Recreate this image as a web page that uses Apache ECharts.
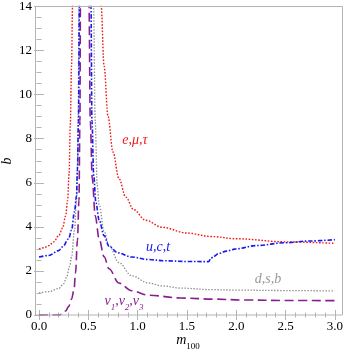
<!DOCTYPE html>
<html><head><meta charset="utf-8">
<script src="https://cdn.jsdelivr.net/npm/echarts@6/dist/echarts.min.js"></script>
<style>html,body{margin:0;padding:0;background:#fff}#c{width:346px;height:350px}</style>
</head><body><div id="c"></div><script>
// tick values
const xTicks = [0, 0.5, 1.0, 1.5, 2.0, 2.5, 3.0];
const yTicks = [0, 2, 4, 6, 8, 10, 12, 14];

// e,mu,tau (red)
const redLX = [0, 0.05, 0.1, 0.15, 0.2, 0.24, 0.27, 0.29, 0.305, 0.317, 0.33, 0.34, 0.35];
const redLY = [3.0, 3.05, 3.15, 3.32, 3.6, 3.95, 4.5, 5.2, 6.4, 8.6, 11.3, 14, 18];
const redRX = [0.60, 0.63, 0.66, 0.70, 0.75, 0.81, 0.88, 0.96, 1.08, 1.25, 1.5, 1.75, 2.0, 2.5, 3.0];
const redRY = [19, 14, 11.3, 9.0, 7.4, 6.2, 5.35, 4.78, 4.3, 3.98, 3.72, 3.56, 3.46, 3.32, 3.25];

// u,c,t (blue)
const blueLX = [0, 0.1, 0.2, 0.24, 0.3, 0.33, 0.36, 0.38, 0.39, 0.40, 0.41, 0.415];
const blueLY = [2.63, 2.7, 2.92, 3.1, 3.45, 3.85, 4.7, 5.4, 6.6, 8.8, 14, 18];
const blueRX = [0.52, 0.527, 0.537, 0.555, 0.577, 0.61, 0.66, 0.71, 0.8, 0.94, 1.1, 1.28, 1.5, 1.72, 1.74, 1.77, 1.82, 1.9, 2.0, 2.2, 2.5, 2.75, 3.0];
const blueRY = [18, 14, 8.8, 6.3, 5.1, 4.3, 3.6, 3.12, 2.82, 2.63, 2.52, 2.46, 2.43, 2.42, 2.55, 2.66, 2.78, 2.9, 3.0, 3.15, 3.28, 3.36, 3.42];

// d,s,b (gray)
const grayLX = [0, 0.1, 0.2, 0.25, 0.28, 0.31, 0.33, 0.36, 0.38, 0.39, 0.397, 0.405, 0.41];
const grayLY = [1.0, 1.06, 1.2, 1.42, 1.72, 2.2, 2.63, 3.85, 5.2, 6.7, 8.8, 14, 18];
const grayRX = [0.545, 0.553, 0.57, 0.59, 0.61, 0.66, 0.71, 0.81, 0.94, 1.11, 1.25, 1.44, 1.75, 2.0, 2.5, 3.0];
const grayRY = [18, 14, 8.8, 5.9, 5.0, 3.8, 3.15, 2.38, 1.78, 1.45, 1.32, 1.22, 1.15, 1.13, 1.11, 1.09];

// nu1,nu2,nu3 (purple)
const purpleLX = [0, 0.1, 0.2, 0.23, 0.27, 0.30, 0.33, 0.355, 0.37, 0.39, 0.405, 0.415, 0.42, 0.425];
const purpleLY = [0, 0, 0, 0.03, 0.18, 0.38, 0.72, 1.15, 1.9, 3.4, 5.2, 8.8, 14, 18];
const purpleRX = [0.5, 0.507, 0.52, 0.54, 0.57, 0.61, 0.66, 0.71, 0.81, 0.94, 1.11, 1.44, 1.78, 2.08, 2.5, 3.0];
const purpleRY = [18, 14, 8.8, 6.2, 4.5, 3.45, 2.65, 2.1, 1.45, 1.1, 0.9, 0.77, 0.72, 0.68, 0.66, 0.65];

const zip = (xs, ys) => xs.map((x, i) => [x, ys[i]]);
const FONT = '"Liberation Serif", "DejaVu Serif", serif';
const FRAME = '#b4b4b4';

function mkSeries(xs, ys, color, dash, width) {
  return {
    type: 'line', data: zip(xs, ys), showSymbol: false, symbol: 'none',
    smooth: 0.35, smoothMonotone: 'x', clip: true, silent: true,
    lineStyle: { color: color, width: width, type: dash, cap: 'butt' }
  };
}
const RED = '#f01818', BLUE = '#1818f0', GRAY = '#8a8a8a', PURPLE = '#86208e';

function subRich(color, italicSub) {
  return {
    a: { fontFamily: FONT, fontStyle: 'italic', fontSize: 14, lineHeight: 20, verticalAlign: 'bottom', padding: [0, 0, 4, 0], fill: color },
    s: { fontFamily: FONT, fontStyle: italicSub ? 'italic' : 'normal', fontSize: 9, lineHeight: 20, verticalAlign: 'bottom', padding: [0, 0, 0, 0], fill: color }
  };
}

const chart = echarts.init(document.getElementById('c'), null, { renderer: 'canvas' });
const tickCommon = { show: true, inside: true, length: 5, lineStyle: { color: FRAME, width: 1 } };
const minorCommon = { show: true, length: 2.5, lineStyle: { color: FRAME, width: 1 } };
chart.setOption({
  animation: false,
  backgroundColor: '#fff',
  grid: { left: 39, right: 7, top: 6, bottom: 35, containLabel: false },
  xAxis: [
    { type: 'value', position: 'bottom', min: 0, max: 3, interval: 0.5,
      axisLine: { show: false }, splitLine: { show: false },
      axisTick: tickCommon, minorTick: Object.assign({ splitNumber: 5 }, minorCommon),
      axisLabel: { margin: 5, color: '#000', fontFamily: FONT, fontSize: 13,
        formatter: v => v.toFixed(1) } },
    { type: 'value', position: 'top', min: 0, max: 3, interval: 0.5,
      axisLine: { show: false }, splitLine: { show: false },
      axisTick: tickCommon, minorTick: Object.assign({ splitNumber: 5 }, minorCommon),
      axisLabel: { show: false } }
  ],
  yAxis: [
    { type: 'value', position: 'left', offset: 4, min: 0, max: 14, interval: 2,
      axisLine: { show: false }, splitLine: { show: false },
      axisTick: tickCommon, minorTick: Object.assign({ splitNumber: 4 }, minorCommon),
      axisLabel: { margin: 3, color: '#000', fontFamily: FONT, fontSize: 13 } },
    { type: 'value', position: 'right', offset: 4, min: 0, max: 14, interval: 2,
      axisLine: { show: false }, splitLine: { show: false },
      axisTick: tickCommon, minorTick: Object.assign({ splitNumber: 4 }, minorCommon),
      axisLabel: { show: false } }
  ],
  series: [
    mkSeries(grayLX, grayLY, GRAY, [1.4, 1.6], 1.3),
    mkSeries(grayRX, grayRY, GRAY, [1.4, 1.6], 1.3),
    mkSeries(purpleLX, purpleLY, PURPLE, [9, 4.5], 1.6),
    mkSeries(purpleRX, purpleRY, PURPLE, [9, 4.5], 1.6),
    mkSeries(redLX, redLY, RED, [1.6, 1.6], 1.4),
    mkSeries(redRX, redRY, RED, [1.6, 1.6], 1.4),
    mkSeries(blueLX, blueLY, BLUE, [4.5, 1.8, 1.5, 1.8], 1.6),
    mkSeries(blueRX, blueRY, BLUE, [4.5, 1.8, 1.5, 1.8], 1.6)
  ],
  graphic: [
    { type: 'rect', shape: { x: 35.5, y: 6.5, width: 307, height: 308.5 },
      style: { fill: 'none', stroke: FRAME, lineWidth: 1 }, z: 10, silent: true },
    { type: 'text', x: 135, y: 140, z: 20,
      style: { text: 'e,μ,τ', fill: RED, font: 'italic 14px ' + FONT, align: 'center', verticalAlign: 'middle' } },
    { type: 'text', x: 158, y: 247, z: 20,
      style: { text: 'u,c,t', fill: BLUE, font: 'italic 14px ' + FONT, align: 'center', verticalAlign: 'middle' } },
    { type: 'text', x: 268, y: 279, z: 20,
      style: { text: 'd,s,b', fill: '#999', font: 'italic 14px ' + FONT, align: 'center', verticalAlign: 'middle' } },
    { type: 'text', x: 124, y: 302, z: 20,
      style: { text: '{a|ν}{s|1}{a|,ν}{s|2}{a|,ν}{s|3}', fill: PURPLE, align: 'center', verticalAlign: 'middle',
        rich: subRich(PURPLE, true) } },
    { type: 'text', x: 188, y: 341, z: 20,
      style: { text: '{a|m}{s|100}', fill: '#000', align: 'center', verticalAlign: 'middle',
        rich: subRich('#000', false) } },
    { type: 'text', x: 7, y: 161, rotation: Math.PI / 2, z: 20,
      style: { text: 'b', fill: '#000', font: 'italic 14px ' + FONT, align: 'center', verticalAlign: 'middle' } }
  ]
});
</script></body></html>
